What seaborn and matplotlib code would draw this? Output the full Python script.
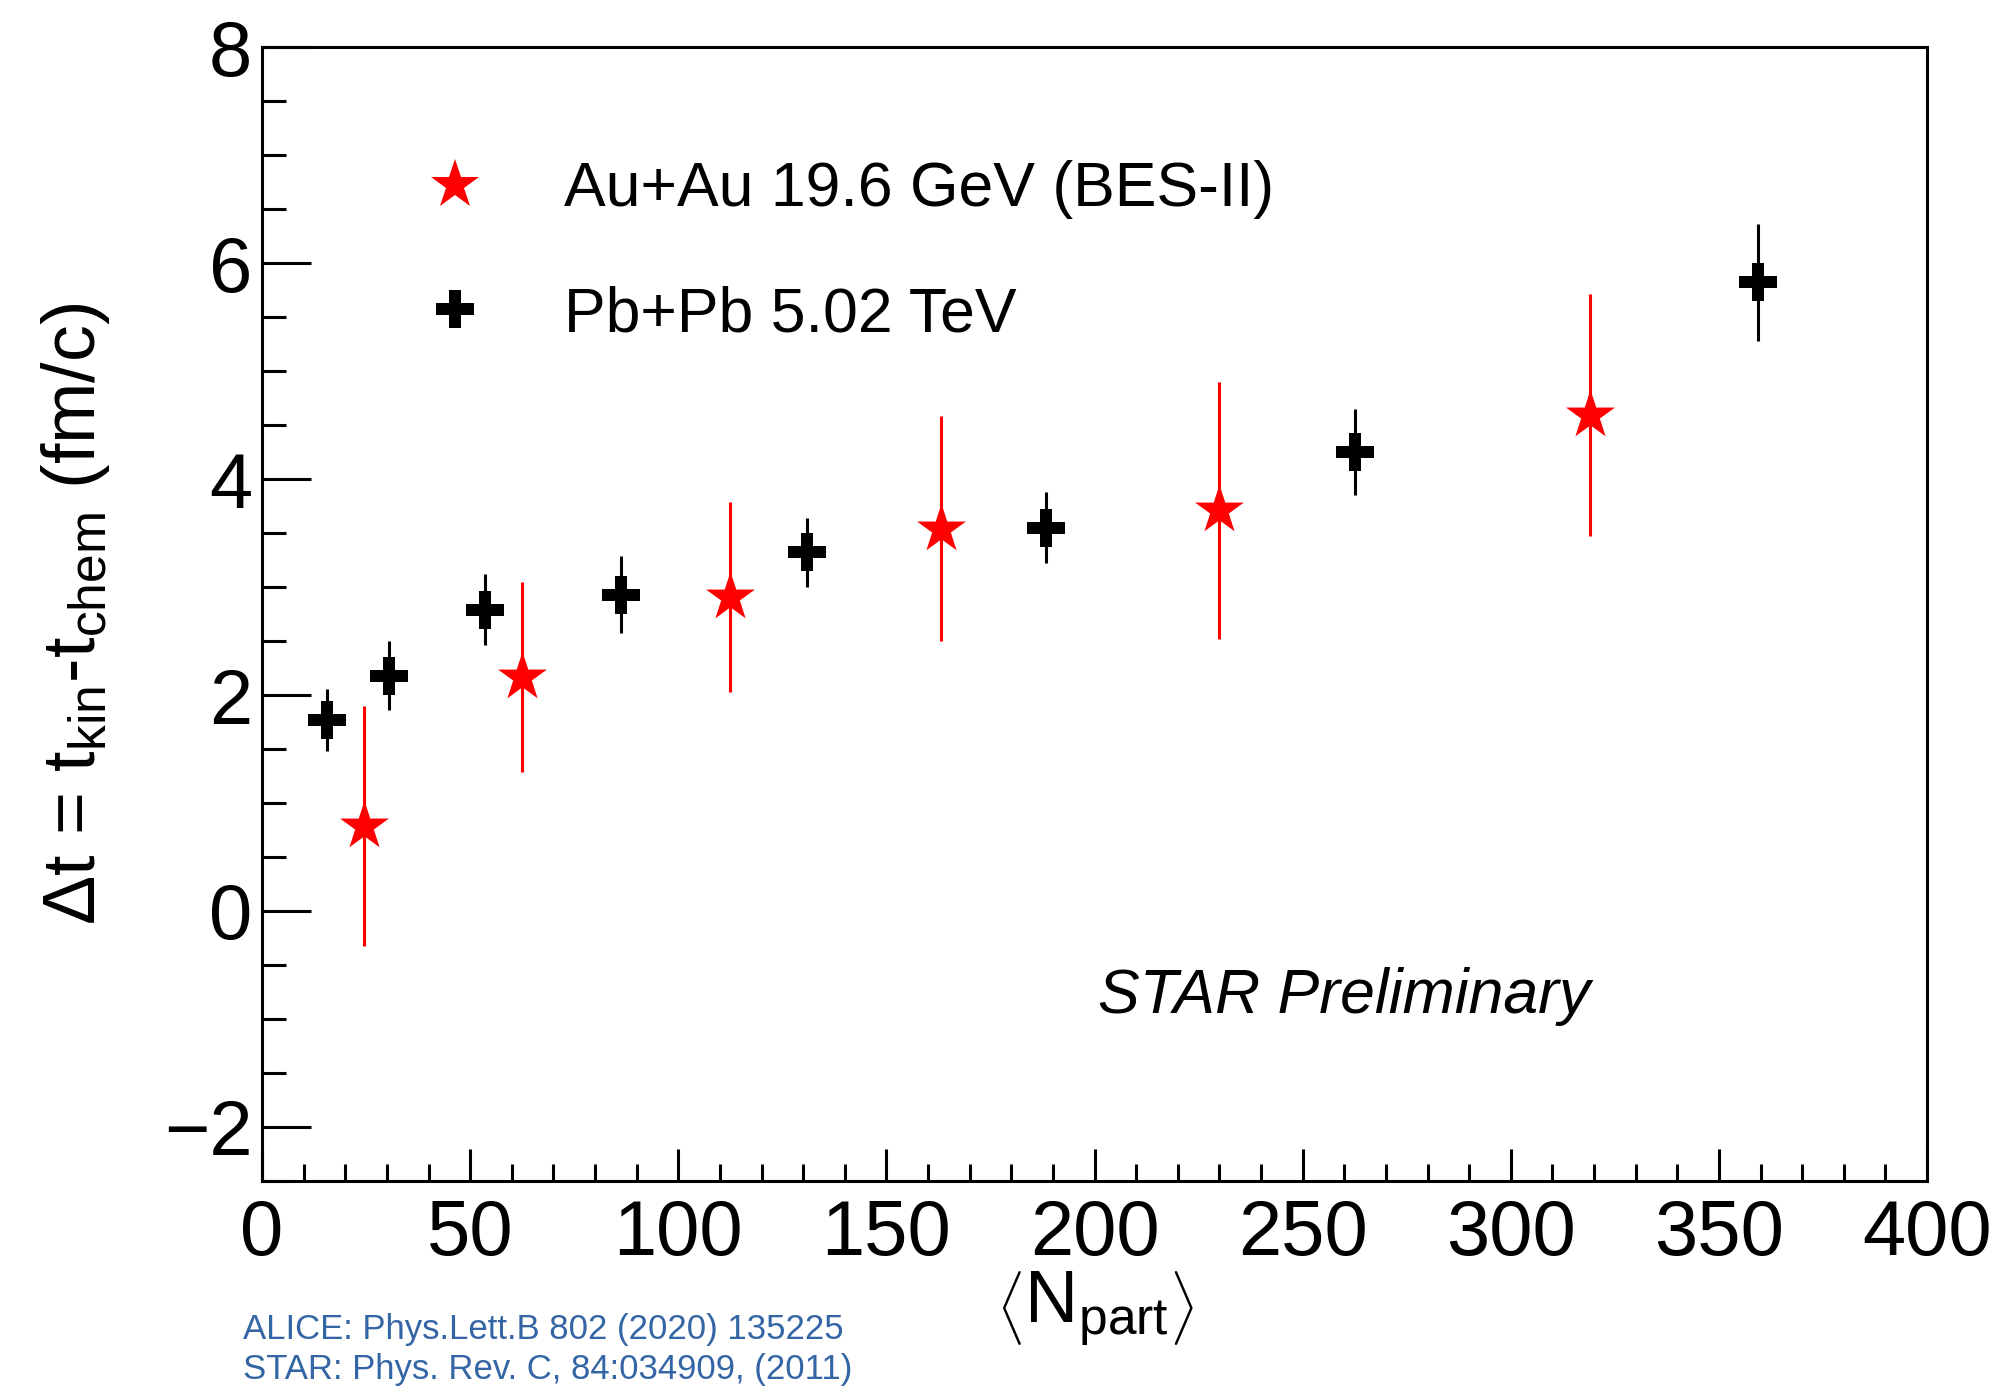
import matplotlib
matplotlib.use('Agg')
import matplotlib.pyplot as plt
import seaborn as sns
from matplotlib.lines import Line2D
from matplotlib.ticker import MultipleLocator

# Au+Au 19.6 GeV (BES-II), STAR
star_npart = [24.5, 62.5, 112.5, 163, 230, 319]
star_dt = [0.79, 2.17, 2.91, 3.54, 3.71, 4.59]
star_err = [1.11, 0.88, 0.88, 1.04, 1.19, 1.12]

# Pb+Pb 5.02 TeV, ALICE
alice_npart = [15.6, 30.4, 53.6, 86.3, 130.8, 188.3, 262.5, 359.5]
alice_dt = [1.77, 2.18, 2.79, 2.93, 3.32, 3.55, 4.25, 5.82]
alice_err = [0.29, 0.32, 0.33, 0.36, 0.32, 0.33, 0.40, 0.54]

legend_labels = ['Au+Au 19.6 GeV (BES-II)', 'Pb+Pb 5.02 TeV']
refs = ['ALICE: Phys.Lett.B 802 (2020) 135225',
        'STAR: Phys. Rev. C, 84:034909, (2011)']

sns.set_theme(style='ticks')
plt.rcParams['font.family'] = ['Liberation Sans', 'DejaVu Sans']
plt.rcParams['mathtext.fontset'] = 'custom'
plt.rcParams['mathtext.rm'] = 'Liberation Sans'
plt.rcParams['mathtext.it'] = 'Liberation Sans:italic'
for k in ['text.color', 'axes.labelcolor', 'xtick.color', 'ytick.color', 'axes.edgecolor']:
    plt.rcParams[k] = 'black'

fig = plt.figure(figsize=(20.08, 13.92), dpi=100)
ax = fig.add_axes([0.1305, 0.1516, 0.8292, 0.8146])

# error bars first, markers on top
ax.errorbar(star_npart, star_dt, yerr=star_err, fmt='none', ecolor='red',
            elinewidth=2.2, capsize=0, zorder=2)
ax.errorbar(alice_npart, alice_dt, yerr=alice_err, fmt='none', ecolor='black',
            elinewidth=2.2, capsize=0, zorder=2)
sns.scatterplot(x=star_npart, y=star_dt, marker='*', s=37**2, color='red',
                linewidth=0, zorder=3, ax=ax)
sns.scatterplot(x=alice_npart, y=alice_dt, marker='P', s=28**2, color='black',
                linewidth=0, zorder=3, ax=ax)

ax.set_xlim(0, 400)
ax.set_ylim(-2.5, 8)
ax.xaxis.set_major_locator(MultipleLocator(50))
ax.xaxis.set_minor_locator(MultipleLocator(10))
ax.yaxis.set_major_locator(MultipleLocator(2))
ax.yaxis.set_minor_locator(MultipleLocator(0.5))

for s in ax.spines.values():
    s.set_linewidth(2.2)

ax.tick_params(axis='x', which='major', direction='in', length=23, width=2.2,
               labelsize=56, pad=12, top=False)
ax.tick_params(axis='x', which='minor', direction='in', length=12, width=2.2, top=False)
ax.tick_params(axis='y', which='major', direction='in', length=35, width=2.2,
               labelsize=56, pad=7, right=False)
ax.tick_params(axis='y', which='minor', direction='in', length=17, width=2.2, right=False)

ax.set_ylabel(r'$\Delta$t = t$_{\rm kin}$-t$_{\rm chem}$ (fm/c)', fontsize=53)
ax.yaxis.set_label_coords(-0.09, 0.5)
ax.set_xlabel(r'$\left\langle{\rm N}_{\rm part}\right\rangle$', fontsize=53)
ax.xaxis.set_label_coords(0.5, -0.078)

handles = [Line2D([], [], marker='*', color='red', linestyle='none', markersize=37, markeredgewidth=0),
           Line2D([], [], marker='P', color='black', linestyle='none', markersize=28, markeredgewidth=0)]
ax.legend(handles, legend_labels, loc='upper left', bbox_to_anchor=(0.0988, 0.9),
          frameon=False, fontsize=45, handlelength=0.9, handletextpad=1.3,
          labelspacing=1.05, borderpad=0, borderaxespad=0)

ax.text(0.502, 0.163, 'STAR Preliminary', transform=ax.transAxes, fontsize=45,
        style='italic', ha='left', va='center')

fig.text(0.121, 0.045, refs[0], fontsize=25, color='#3465a4', va='center')
fig.text(0.121, 0.016, refs[1], fontsize=25, color='#3465a4', va='center')

fig.savefig('out.png', dpi=100, facecolor='white')
